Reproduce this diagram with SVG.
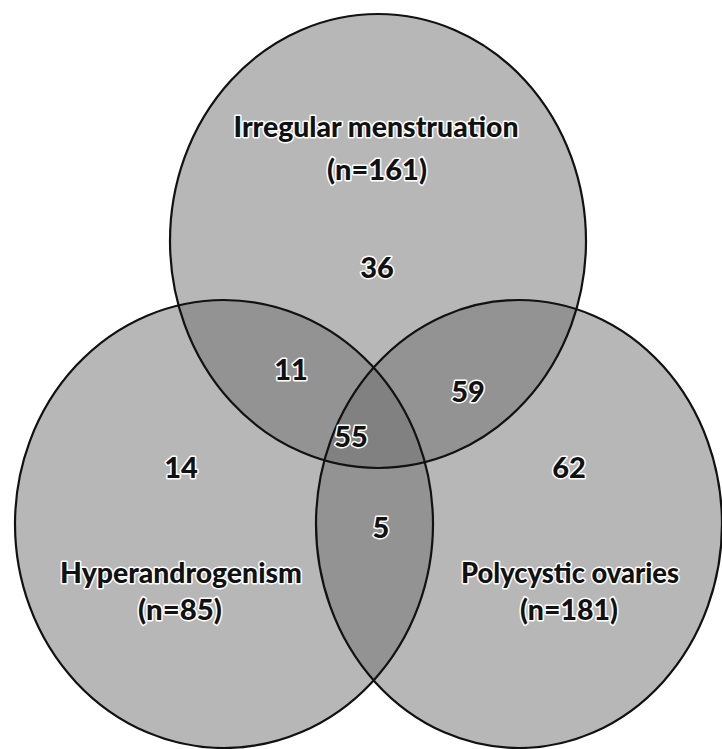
<svg xmlns="http://www.w3.org/2000/svg" width="722" height="749" viewBox="0 0 722 749">
<style>
.set{fill:#707070;fill-opacity:0.5;stroke:none}
.edge{fill:none;stroke:#111;stroke-width:2.2}
text{font-family:Lato,"Open Sans","Liberation Sans",sans-serif;font-weight:900;fill:#111;text-anchor:middle;stroke:#fff;stroke-width:3;stroke-linejoin:round;paint-order:stroke}
.lbl{font-size:28px}
.num{font-size:29px}
</style>
<rect width="722" height="749" fill="#fff"/>
<g id="fills">
<ellipse class="set" cx="378" cy="241" rx="208" ry="227"/>
<ellipse class="set" cx="224" cy="524" rx="209" ry="224"/>
<ellipse class="set" cx="519" cy="524" rx="203" ry="224"/>
</g>
<g id="irregular-menstruation">
<ellipse class="edge" cx="378" cy="241" rx="208" ry="227"/>
<text class="lbl" x="376" y="137" textLength="285" lengthAdjust="spacingAndGlyphs">Irregular menstruation</text>
<text class="lbl" x="377" y="180" textLength="100" lengthAdjust="spacingAndGlyphs">(n=161)</text>
</g>
<g id="hyperandrogenism">
<ellipse class="edge" cx="224" cy="524" rx="209" ry="224"/>
<text class="lbl" x="181" y="583" textLength="242" lengthAdjust="spacingAndGlyphs">Hyperandrogenism</text>
<text class="lbl" x="180" y="620" textLength="84" lengthAdjust="spacingAndGlyphs">(n=85)</text>
</g>
<g id="polycystic-ovaries">
<ellipse class="edge" cx="519" cy="524" rx="203" ry="224"/>
<text class="lbl" x="570" y="583" textLength="218" lengthAdjust="spacingAndGlyphs">Polycystic ovaries</text>
<text class="lbl" x="569" y="620" textLength="98" lengthAdjust="spacingAndGlyphs">(n=181)</text>
</g>
<g id="region-counts">
<text class="num" x="377" y="278">36</text>
<text class="num" x="291" y="380">11</text>
<text class="num" x="468" y="402">59</text>
<text class="num" x="351" y="447">55</text>
<text class="num" x="181" y="478">14</text>
<text class="num" x="569" y="478">62</text>
<text class="num" x="381" y="538">5</text>
</g>
</svg>
